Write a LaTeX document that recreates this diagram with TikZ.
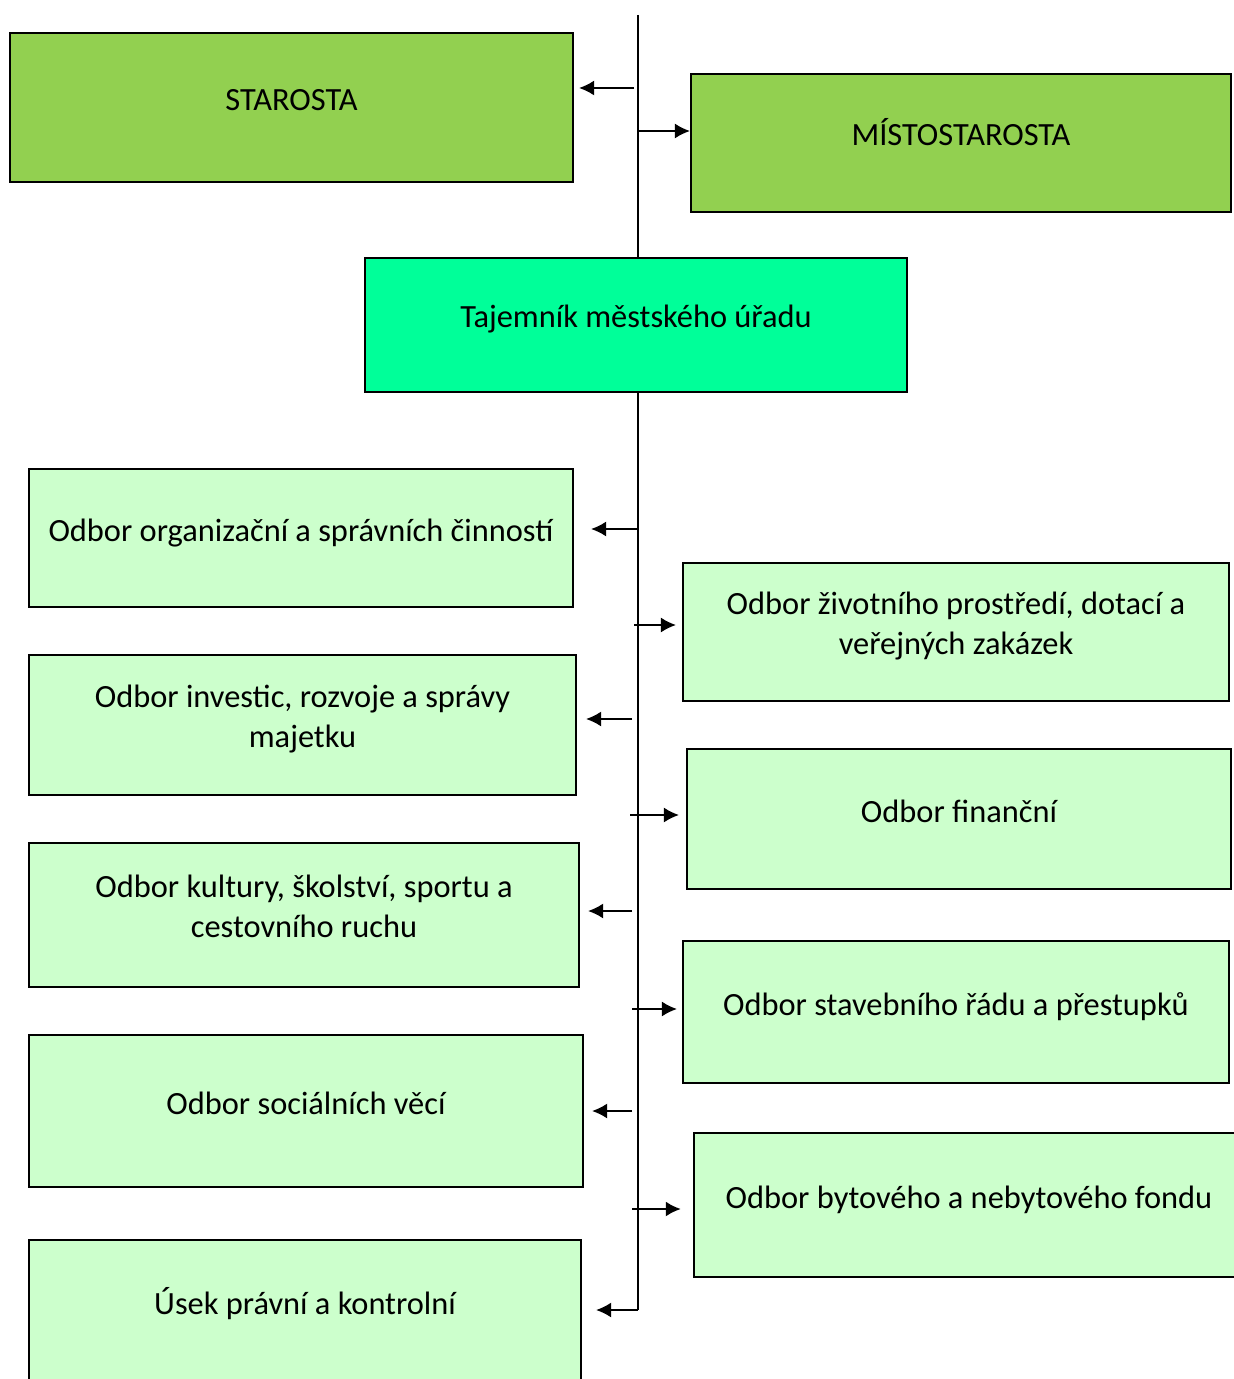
\documentclass[tikz,border=0pt]{standalone}
\usepackage{fontspec}
\setmainfont{Carlito}
\usetikzlibrary{arrows.meta}
\definecolor{headgreen}{HTML}{92D050}
\definecolor{chiefgreen}{HTML}{00FF99}
\definecolor{deptgreen}{HTML}{CCFFCC}
\begin{document}
\begin{tikzpicture}[x=0.5pt, y=-0.5pt,
    box/.style={draw, line width=1.2pt, inner sep=0pt, align=center,
      text height=12pt, text depth=9pt, font=\fontsize{16.2}{20}\selectfont},
    twoline/.style={box, text height=, text depth=9pt},
    link/.style={-{Latex[length=7.5pt,width=7.5pt]}, line width=0.6pt},
    spine/.style={line width=1pt}]
      \useasboundingbox (0,0) rectangle (1234,1379);
      % vedeni
      \node[box, fill=headgreen, minimum width=281.5pt, minimum height=74.5pt] (starosta) at (291.5,107.5) {STAROSTA};
      \node[box, fill=headgreen, minimum width=270pt, minimum height=69pt] (misto) at (961,143) {MÍSTOSTAROSTA};
      \node[box, fill=chiefgreen, minimum width=271pt, minimum height=67pt] (tajemnik) at (636,325) {Tajemník městského úřadu};
      % odbory vlevo
      \node[box, fill=deptgreen, minimum width=272pt, minimum height=69pt] (organizacni) at (301,538) {Odbor organizační a správních činností};
      \node[twoline, fill=deptgreen, minimum width=273.5pt, minimum height=70pt] (investice) at (302.5,725) {Odbor investic, rozvoje a správy\\majetku};
      \node[twoline, fill=deptgreen, minimum width=275pt, minimum height=72pt] (kultura) at (304,915) {Odbor kultury, školství, sportu a\\cestovního ruchu};
      \node[box, fill=deptgreen, minimum width=277pt, minimum height=76pt] (socialni) at (306,1111) {Odbor sociálních věcí};
      \node[box, fill=deptgreen, minimum width=276pt, minimum height=71pt] (pravni) at (305,1311) {Úsek právní a kontrolní};
      % odbory vpravo
      \node[twoline, fill=deptgreen, minimum width=273pt, minimum height=69pt] (zivotni) at (956,632) {Odbor životního prostředí, dotací a\\veřejných zakázek};
      \node[box, fill=deptgreen, minimum width=272pt, minimum height=70pt] (financni) at (959,819) {Odbor finanční};
      \node[box, fill=deptgreen, minimum width=273pt, minimum height=71pt] (stavebni) at (956,1012) {Odbor stavebního řádu a přestupků};
      \node[box, fill=deptgreen, minimum width=275pt, minimum height=72pt] (bytovy) at (969,1205) {Odbor bytového a nebytového fondu};
      % osa
      \coordinate (top) at (638,15);
      \coordinate (bend) at (638,1310);
      \draw[spine] (top) -- (top |- tajemnik.north);
      \draw[spine] (top |- tajemnik.south) -- (bend);
      % sipky
      \draw[link, shorten >=2.5pt] (634,88) -- (starosta.east |- 0,88);
      \draw[link] (638,131) -- (misto.west |- 0,131);
      \draw[link, shorten >=8.5pt] (638,529) -- (organizacni.east |- 0,529);
      \draw[link, shorten >=3pt] (634,625) -- (zivotni.west |- 0,625);
      \draw[link, shorten >=4.5pt] (632,719) -- (investice.east |- 0,719);
      \draw[link, shorten >=3.5pt] (630,815) -- (financni.west |- 0,815);
      \draw[link, shorten >=4pt] (632,911) -- (kultura.east |- 0,911);
      \draw[link, shorten >=2.5pt] (632,1009) -- (stavebni.west |- 0,1009);
      \draw[link, shorten >=4pt] (632,1111) -- (socialni.east |- 0,1111);
      \draw[link, line width=1pt, shorten >=6pt] (632,1209) -- (bytovy.west |- 0,1209);
      \draw[link, shorten >=7pt] (bend) -- (pravni.east |- bend);
\end{tikzpicture}
\end{document}
